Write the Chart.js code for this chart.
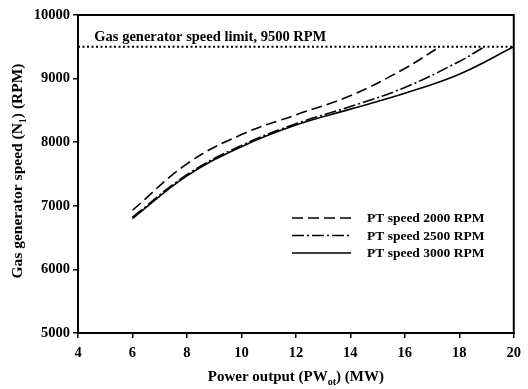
<!DOCTYPE html>
<html lang="en">
<head>
    <meta charset="UTF-8">
    <title>Gas generator speed vs power output</title>
    <script src="https://cdn.jsdelivr.net/npm/chart.js"></script>
    <style>
        body { margin: 0; background: #fff; }
        #wrap { width: 528px; height: 389px; }
    </style>
</head>
<body>
    <div id="wrap"><canvas id="speedChart" width="528" height="389"></canvas></div>

    <script>
        // values
        const xTicks = [4, 6, 8, 10, 12, 14, 16, 18, 20];
        const yTicks = [5000, 6000, 7000, 8000, 9000, 10000];

        const pt2000Power = [6, 8, 10, 12, 14, 16, 17.28];
        const pt2000Speed = [6930, 7660, 8120, 8430, 8730, 9160, 9500];

        const pt2500Power = [6, 8, 10, 12, 14, 16, 18, 18.93];
        const pt2500Speed = [6820, 7490, 7950, 8290, 8560, 8860, 9270, 9500];

        const pt3000Power = [6, 8, 10, 12, 14, 16, 18, 20];
        const pt3000Speed = [6800, 7470, 7930, 8270, 8520, 8770, 9070, 9500];

        const limitPower = [4, 20];
        const limitSpeed = [9500, 9500];

        const seriesLabels = ['PT speed 2000 RPM', 'PT speed 2500 RPM', 'PT speed 3000 RPM'];
        const limitText = 'Gas generator speed limit, 9500 RPM';

        const serif = "'Liberation Serif', 'Times New Roman', serif";

        function toPoints(xs, ys) {
            return xs.map((x, i) => ({ x: x, y: ys[i] }));
        }

        const dashStyles = [[11, 5], [12, 3, 2, 3], []];
        const seriesData = [
            toPoints(pt2000Power, pt2000Speed),
            toPoints(pt2500Power, pt2500Speed),
            toPoints(pt3000Power, pt3000Speed)
        ];

        const datasets = seriesData.map((d, i) => ({
            label: seriesLabels[i],
            data: d,
            borderColor: '#000',
            borderWidth: 1.6,
            borderDash: dashStyles[i],
            pointRadius: 0,
            tension: 0.4,
            fill: false
        }));
        datasets.push({
            label: 'limit',
            data: toPoints(limitPower, limitSpeed),
            borderColor: '#000',
            borderWidth: 2,
            borderDash: [2, 2.5],
            pointRadius: 0,
            fill: false
        });

        // draws text pieces in a row, smaller pieces dropped as subscripts
        function drawParts(ctx, parts, x, y) {
            parts.forEach(p => {
                ctx.font = 'bold ' + p[1] + 'px ' + serif;
                ctx.fillText(p[0], x, y + p[2]);
                x += ctx.measureText(p[0]).width;
            });
        }
        function partsWidth(ctx, parts) {
            let w = 0;
            parts.forEach(p => { ctx.font = 'bold ' + p[1] + 'px ' + serif; w += ctx.measureText(p[0]).width; });
            return w;
        }

        // frame, titles, limit text and legend
        const decorations = {
            id: 'decorations',
            afterDraw(chart) {
                const ctx = chart.ctx;
                const a = chart.chartArea;
                const xs = chart.scales.x, ys = chart.scales.y;
                ctx.save();
                ctx.strokeStyle = '#000';
                ctx.lineWidth = 2;
                ctx.strokeRect(a.left, a.top, a.right - a.left, a.bottom - a.top);

                ctx.fillStyle = '#000';
                ctx.font = 'bold 14.5px ' + serif;
                ctx.textBaseline = 'alphabetic';
                ctx.textAlign = 'left';
                ctx.fillText(limitText, xs.getPixelForValue(4.6), ys.getPixelForValue(9590));

                // legend
                ctx.font = 'bold 13.5px ' + serif;
                for (let i = 0; i < 3; i++) {
                    const y = 218 + i * 17.5;
                    ctx.beginPath();
                    ctx.lineWidth = 1.6;
                    ctx.setLineDash(dashStyles[i]);
                    ctx.moveTo(292, y);
                    ctx.lineTo(351, y);
                    ctx.stroke();
                    ctx.setLineDash([]);
                    ctx.textBaseline = 'middle';
                    ctx.fillText(seriesLabels[i], 367, y + 1);
                }

                // x title with subscript
                ctx.textBaseline = 'alphabetic';
                const xparts = [['Power output (PW', 15, 0], ['ot', 10, 4], [') (MW)', 15, 0]];
                const cx = (a.left + a.right) / 2;
                drawParts(ctx, xparts, cx - partsWidth(ctx, xparts) / 2, 381);

                // y title, rotated
                ctx.translate(22, 171);
                ctx.rotate(-Math.PI / 2);
                const yparts = [['Gas generator speed (N', 15.5, 0], ['1', 10, 4], [') (RPM)', 15.5, 0]];
                drawParts(ctx, yparts, -partsWidth(ctx, yparts) / 2, 0);
                ctx.restore();
            }
        };

        const tickFont = { family: serif, size: 14.5, weight: 'bold' };

        const ctx = document.getElementById('speedChart').getContext('2d');
        const chart = new Chart(ctx, {
            type: 'line',
            data: { datasets: datasets },
            options: {
                responsive: false,
                animation: false,
                layout: { padding: { top: 15, right: 12, left: 0, bottom: 0 } },
                plugins: {
                    legend: { display: false },
                    tooltip: { enabled: false }
                },
                scales: {
                    x: {
                        type: 'linear',
                        min: 4,
                        max: 20,
                        afterFit(scale) { scale.height = 56; },
                        afterBuildTicks(scale) { scale.ticks = xTicks.map(v => ({ value: v })); },
                        grid: { drawOnChartArea: false, drawTicks: true, tickLength: 5, color: '#000', lineWidth: 1.5 },
                        border: { display: true, color: '#000', width: 2 },
                        ticks: { color: '#000', padding: 7, maxRotation: 0, font: tickFont, callback: v => String(v) }
                    },
                    y: {
                        type: 'linear',
                        min: 5000,
                        max: 10000,
                        afterFit(scale) { scale.width = 78; },
                        afterBuildTicks(scale) { scale.ticks = yTicks.map(v => ({ value: v })); },
                        grid: { drawOnChartArea: false, drawTicks: true, tickLength: 5, color: '#000', lineWidth: 1.5 },
                        border: { display: true, color: '#000', width: 2 },
                        ticks: { color: '#000', padding: 3, font: tickFont, callback: v => String(v) }
                    }
                }
            },
            plugins: [decorations]
        });
    </script>
</body>
</html>
